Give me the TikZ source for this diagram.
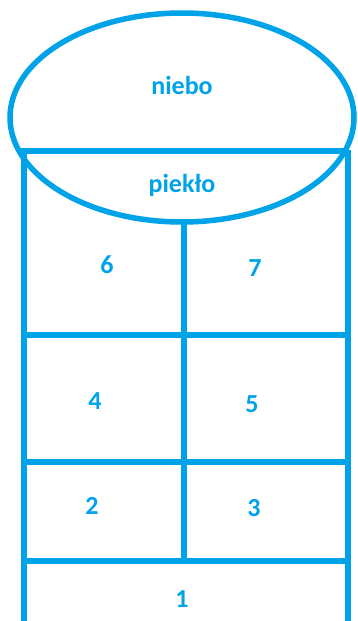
\documentclass[tikz,border=0pt]{standalone}
\usepackage{fontspec}
\setmainfont{Carlito}
\definecolor{pblue}{RGB}{0,162,232}
\begin{document}
\begin{tikzpicture}[x=1pt,y=-1pt,
  ln/.style={draw=pblue,line width=6pt},
  lbl/.style={text=pblue,font=\bfseries\fontsize{26}{30}\selectfont,inner sep=0pt}]
\useasboundingbox (0,0) rectangle (358,621);
% frame
\draw[ln] (24,150) -- (24,625);
\draw[ln] (348,150) -- (348,625);
\draw[ln] (184,222) -- (184,561);
\draw[ln] (21,335) -- (351,335);
\draw[ln] (21,462) -- (351,462);
\draw[ln] (21,561) -- (351,561);
% ellipse
\draw[ln] (20,150.5) -- (346,150.5);
\draw[ln,line width=5.5pt] (182,117.5) ellipse [x radius=172, y radius=104.5];
% labels
\node[lbl] (niebo) at (182,85) {niebo};
\node[lbl] (pieklo) at (182,185) {piekło};
\node[lbl] (n6) at (107,265) {6};
\node[lbl] (n7) at (255,268) {7};
\node[lbl] (n4) at (95,401) {4};
\node[lbl] (n5) at (252,404) {5};
\node[lbl] (n2) at (92,506) {2};
\node[lbl] (n3) at (254,508) {3};
\node[lbl] (n1) at (182,599) {1};
\end{tikzpicture}
\end{document}
